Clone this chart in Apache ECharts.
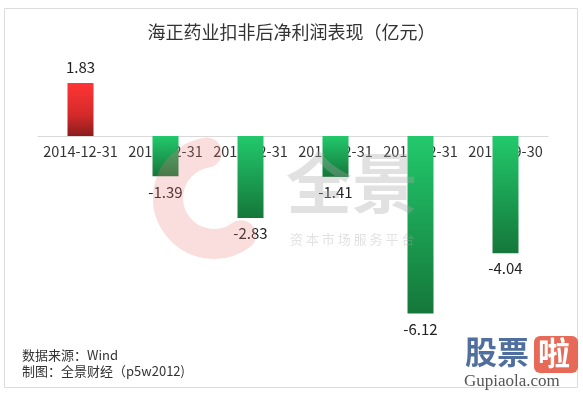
<!DOCTYPE html>
<html>
<head>
<meta charset="utf-8">
<script src="https://cdn.jsdelivr.net/npm/echarts@6/dist/echarts.min.js"></script>
<style>
html,body{margin:0;padding:0;background:#fff;}
#c{width:583px;height:394px;}
</style>
</head>
<body>
<div id="c"></div>
<script>
const title = '海正药业扣非后净利润表现（亿元）';
const categories = ['2014-12-31','2015-12-31','2016-12-31','2017-12-31','2018-12-31','2019-09-30'];
const values = [1.83, -1.39, -2.83, -1.41, -6.12, -4.04];
const footnotes = ['数据来源：Wind', '制图：全景财经（p5w2012)'];
const yMin = -7, yMax = 2;

const FONT = '"Microsoft YaHei","Noto Sans CJK SC","Liberation Sans",Arial,sans-serif';

const redGrad = new echarts.graphic.LinearGradient(0,0,0,1,[
  {offset:0,color:'#ff3535'},{offset:0.6,color:'#d42a2a'},{offset:1,color:'#8a1c1c'}]);
const greenGrad = new echarts.graphic.LinearGradient(0,0,0,1,[
  {offset:0,color:'#22c96c'},{offset:1,color:'#15773a'}]);

const gridTop = 78, gridH = 261;
// shift the category axis up onto the zero line
const zeroOffset = -gridH * (0 - yMin) / (yMax - yMin);

const chart = echarts.init(document.getElementById('c'), null, {renderer:'canvas'});
chart.setOption({
  animation:false,
  backgroundColor:'#ffffff',
  title:{
    text:title, left:'center', top:18,
    textStyle:{fontFamily:FONT,fontSize:18,fontWeight:'normal',color:'#333'}
  },
  grid:{left:38,right:35,top:gridTop,height:gridH},
  xAxis:{
    type:'category', data:categories,
    offset: zeroOffset,
    axisLine:{onZero:false,lineStyle:{color:'#d9d9d9'}},
    axisTick:{show:false},
    axisLabel:{fontFamily:FONT,fontSize:14.5,color:'#333',margin:8,interval:0},
    splitLine:{show:false},
    z:1
  },
  yAxis:{type:'value',min:yMin,max:yMax,show:false,splitLine:{show:false}},
  series:[{
    type:'bar',
    barWidth:26,
    z:3,
    data:values.map(v=>({
      value:v,
      itemStyle:{color: v>=0 ? redGrad : greenGrad},
      label:{show:true, position: v>=0 ? 'top' : 'bottom', distance:8}
    })),
    label:{fontFamily:FONT,fontSize:15,color:'#222',formatter:p=>p.value.toFixed(2)}
  }],
  graphic:[
    {type:'rect', z:-10, shape:{x:4.5,y:8.5,width:573,height:379},
     style:{fill:'none',stroke:'#dcdcdc',lineWidth:1}},
    {type:'arc', z:100, silent:true,
     shape:{cx:214,cy:198,r:46,startAngle:Math.PI*0.3,endAngle:Math.PI*1.45,clockwise:true},
     style:{fill:'none',stroke:'rgba(235,120,120,0.25)',lineWidth:30,lineCap:'round'}},
    {type:'text', z:100, silent:true, left:286, top:150,
     style:{text:'全景',font:'bold 66px '+FONT,fill:'rgba(170,170,170,0.35)'}},
    {type:'text', z:100, silent:true, left:290, top:233,
     style:{text:'资 本 市 场 服 务 平 台',font:'13px '+FONT,fill:'rgba(170,170,170,0.35)'}},
    {type:'text', left:22, top:349,
     style:{text:footnotes[0],font:'13px '+FONT,fill:'#333'}},
    {type:'text', left:22, top:365,
     style:{text:footnotes[1],font:'13px '+FONT,fill:'#333'}},
    {type:'text', z:100, left:465, top:336,
     style:{text:'股票',font:'bold 32px '+FONT,fill:'#3d5f94',opacity:0.9}},
    {type:'rect', z:100, shape:{x:534,y:336,width:44,height:37,r:6},
     style:{fill:'rgba(228,90,70,0.9)'}},
    {type:'text', z:101, left:538, top:337,
     style:{text:'啦',font:'bold 32px '+FONT,fill:'#fff'}},
    {type:'text', z:100, left:464, top:373,
     style:{text:'Gupiaola.com',font:'17px "Liberation Serif","DejaVu Serif",serif',fill:'#555'}}
  ]
});
</script>
</body>
</html>
